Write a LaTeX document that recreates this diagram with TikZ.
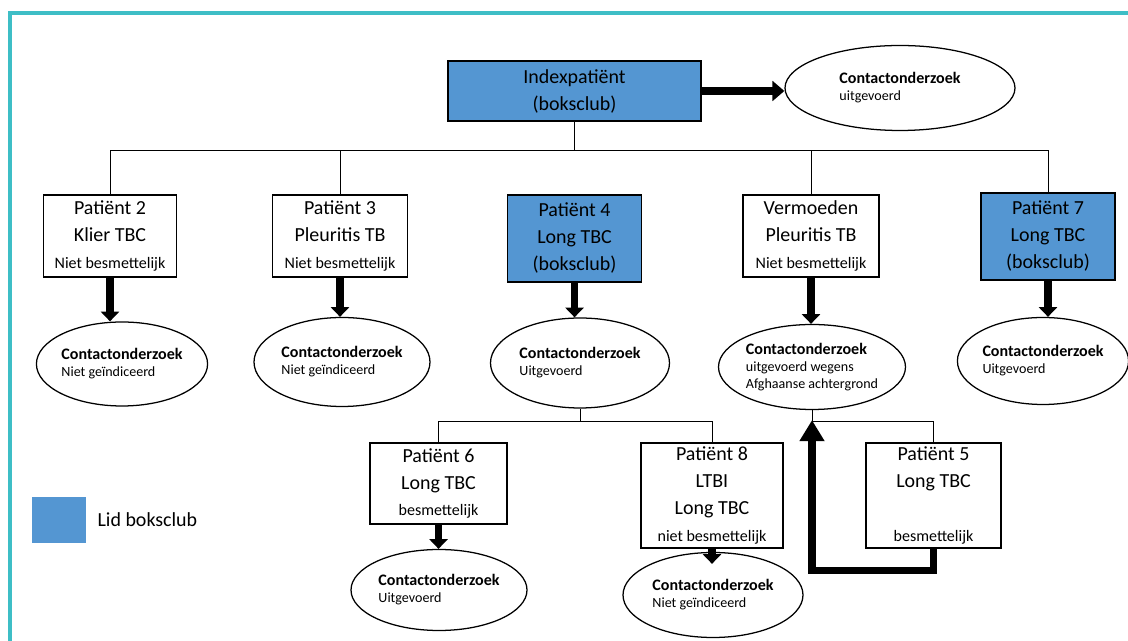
\documentclass[tikz,border=0pt]{standalone}
\usepackage{fontspec}
\setmainfont{Carlito}
\usetikzlibrary{arrows.meta,shapes.geometric,positioning}
\definecolor{boks}{RGB}{84,150,210}
\definecolor{frame}{RGB}{62,190,198}
\newcommand\boxfont{\fontsize{14.2}{19.2}\selectfont}
\newcommand\notefont{\fontsize{11.4}{14}\selectfont}
\newcommand\ctfont{\fontsize{11.4}{14}\selectfont\bfseries}
\newcommand\ctsub{\fontsize{10}{14}\selectfont}

\begin{document}
\begin{tikzpicture}[
  pbox/.style={draw, line width=0.9pt, align=center, inner sep=0pt, font=\boxfont},
  lidbox/.style={pbox, fill=boks},
  contact/.style={draw, ellipse, line width=0.9pt, align=left, inner sep=0pt},
  link/.style={line width=0.7pt},
  downarrow/.style={line width=5pt, -{Triangle[width=13pt,length=7pt]}},
  sidearrow/.style={line width=5.7pt, -{Triangle[width=14pt,length=8.5pt]}},
  backarrow/.style={line width=5pt, -{Triangle[width=17pt,length=15pt]}}
]
\useasboundingbox (0,0) rectangle (28.200,16.025);
\draw[frame, line width=2.4pt] (0.250,0) -- (0.250,15.700) -- (28.200,15.700);

\node[lidbox, minimum width=6.325cm, minimum height=1.500cm] (idx) at (14.363,13.750) {Indexpatiënt\\(boksclub)};
\node[contact, minimum width=5.750cm, minimum height=2.125cm] (cidx) at (22.500,13.825) {{\ctfont Contactonderzoek}\\{\ctsub uitgevoerd}};

\node[pbox, minimum width=3.325cm, minimum height=2.050cm] (p2) at (2.750,10.125) {Patiënt 2\\Klier TBC\\{\notefont Niet besmettelijk}};
\node[pbox, minimum width=3.375cm, minimum height=2.050cm] (p3) at (8.500,10.125) {Patiënt 3\\Pleuritis TB\\{\notefont Niet besmettelijk}};
\node[lidbox, minimum width=3.350cm, minimum height=2.175cm] (p4) at (14.363,10.063) {Patiënt 4\\Long TBC\\(boksclub)};
\node[pbox, minimum width=3.400cm, minimum height=2.050cm] (verm) at (20.275,10.125) {Vermoeden\\Pleuritis TB\\{\notefont Niet besmettelijk}};
\node[lidbox, minimum width=3.350cm, minimum height=2.175cm] (p7) at (26.200,10.113) {Patiënt 7\\Long TBC\\(boksclub)};

\node[contact, minimum width=4.275cm, minimum height=2.100cm] (c2) at (3.050,6.925) {{\ctfont Contactonderzoek}\\{\ctsub Niet geïndiceerd}};
\node[contact, minimum width=4.400cm, minimum height=2.225cm] (c3) at (8.550,6.975) {{\ctfont Contactonderzoek}\\{\ctsub Niet geïndiceerd}};
\node[contact, minimum width=4.475cm, minimum height=2.250cm] (c4) at (14.500,6.950) {{\ctfont Contactonderzoek}\\{\ctsub Uitgevoerd}};
\node[contact, minimum width=4.500cm, minimum height=2.125cm] (cverm) at (20.300,6.850) {{\ctfont Contactonderzoek}\\{\ctsub uitgevoerd wegens}\\{\ctsub Afghaanse achtergrond}};
\node[contact, minimum width=4.100cm, minimum height=2.175cm] (c7) at (26.075,7.000) {{\ctfont Contactonderzoek}\\{\ctsub Uitgevoerd}};

\node[pbox, minimum width=3.425cm, minimum height=2.025cm] (p6) at (10.963,3.938) {Patiënt 6\\Long TBC\\{\notefont besmettelijk}};
\node[pbox, minimum width=3.550cm, minimum height=2.625cm] (p8) at (17.800,3.638) {Patiënt 8\\LTBI\\Long TBC\\{\notefont niet besmettelijk}};
\node[pbox, minimum width=3.375cm, minimum height=2.625cm] (p5) at (23.338,3.638) {Patiënt 5\\Long TBC\\[19.2pt]{\notefont besmettelijk}};

\node[contact, minimum width=4.400cm, minimum height=2.025cm] (c6) at (10.975,1.275) {{\ctfont Contactonderzoek}\\{\ctsub Uitgevoerd}};
\node[contact, minimum width=4.500cm, minimum height=2.125cm] (c8) at (17.825,1.150) {{\ctfont Contactonderzoek}\\{\ctsub Niet geïndiceerd}};

\node[fill=boks, minimum width=1.350cm, minimum height=1.150cm, inner sep=0pt] (leg) at (1.475,3.025) {};
\node[right=0.275cm of leg, inner sep=0pt, font=\boxfont] (legtext) {Lid boksclub};

\coordinate (bus1) at (0,12.250);
\coordinate (bus2) at (0,5.500);

\draw[link] (idx.south) -- (idx.south |- bus1);
\draw[link] (p2.north) |- (p7.north |- bus1) -- (p7.north);
\draw[link] (p3.north) -- (p3.north |- bus1);
\draw[link] (verm.north) -- (verm.north |- bus1);
\draw[link] (c4.south) -- (c4.south |- bus2);
\draw[link] (p6.north) |- (p8.north |- bus2) -- (p8.north);
\draw[link] (cverm.south) |- (p5.north |- bus2) -- (p5.north);

\draw[sidearrow] (idx.east) -- (idx.east -| cidx.west);
\draw[downarrow] (p2.south) -- (p2.south |- c2.north);
\draw[downarrow] (p3.south) -- (p3.south |- c3.north);
\draw[downarrow] (p4.south) -- (p4.south |- c4.north);
\draw[downarrow] (verm.south) -- (verm.south |- cverm.north);
\draw[downarrow] (p7.south) -- (p7.south |- c7.north);
\draw[downarrow] (p6.south) -- (p6.south |- c6.north);
\draw[downarrow, shorten >=-0.3cm] (p8.south) -- (p8.south |- c8.north);
\draw[backarrow, shorten >=0.25cm] (p5.south) -- ++(0,-0.550) -| (cverm.south);
\end{tikzpicture}
\end{document}
